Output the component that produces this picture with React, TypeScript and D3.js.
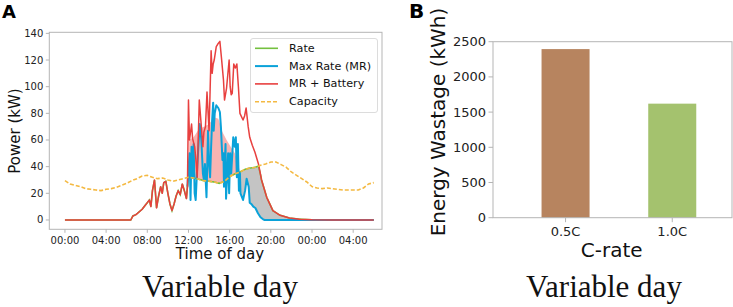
import React from "react";
import * as d3 from "d3";

type P = [number, number];

// ---------- Panel A data (hour of day, kW) ----------
const capacity: P[] = [
  [0, 29.5], [0.5, 27], [1, 26], [1.5, 25], [2, 23.5], [2.5, 23], [3, 22.5], [3.5, 22],
  [4, 23], [4.5, 23.5], [5, 24.5], [5.5, 26], [6, 27.5], [6.5, 29.5], [7, 31], [7.5, 33],
  [8, 33.5], [8.5, 32], [9, 31], [9.5, 31.5], [10, 30], [10.5, 29], [11, 30], [11.5, 31],
  [12, 32], [12.5, 31.5], [13, 30.5], [13.5, 29.5], [14, 29], [14.5, 28.5], [15, 27.5],
  [15.5, 29], [16, 32.5], [16.5, 34.5], [17, 36], [17.5, 38], [18, 39], [18.5, 39.5],
  [19, 41], [19.5, 42], [20, 43.5], [20.5, 43.5], [21, 41.5], [21.5, 39.5], [22, 36],
  [22.5, 33.5], [23, 31], [23.5, 28.5], [24, 25], [24.5, 24], [25, 23.5], [25.5, 24],
  [26, 23.5], [26.5, 23], [27, 22.5], [27.5, 22.5], [28, 22.5], [28.5, 22.5], [29, 24],
  [29.5, 27], [30, 28],
];

const maxRate: P[] = [
  [11.9, 25], [12.0, 37], [12.1, 50], [12.2, 15], [12.3, 55], [12.4, 32], [12.5, 57],
  [12.6, 20], [12.7, 15], [12.85, 40], [13.0, 60], [13.1, 72], [13.25, 60], [13.4, 35],
  [13.5, 30], [13.6, 42], [13.75, 17], [13.9, 67], [14.0, 42], [14.1, 32], [14.2, 55],
  [14.3, 75], [14.4, 88], [14.45, 67], [14.55, 80], [14.7, 86], [14.9, 84], [15.05, 81],
  [15.15, 70], [15.3, 45], [15.4, 50], [15.45, 25], [15.6, 57], [15.65, 16], [15.75, 32],
  [15.85, 50], [15.95, 20], [16.05, 50], [16.15, 35], [16.35, 62], [16.5, 55], [16.6, 62],
  [16.7, 32], [16.8, 57], [16.9, 22], [17.0, 35], [17.05, 20], [17.3, 15], [17.5, 22],
  [17.65, 31], [17.85, 25], [17.95, 13], [18.1, 12], [18.3, 10], [18.5, 9], [18.75, 5],
  [19.0, 2], [19.25, 0.5], [19.4, 0], [30, 0],
];

const mrBattery: P[] = [
  [0, 0], [6.4, 0], [6.6, 3], [6.9, 4], [7.2, 6], [7.5, 8], [7.8, 11], [8.0, 13],
  [8.2, 15], [8.35, 10], [8.5, 22], [8.7, 30], [8.9, 9], [9.1, 18], [9.3, 25], [9.45, 20],
  [9.6, 28], [9.8, 29], [10.0, 20], [10.2, 12], [10.4, 7], [10.6, 12], [10.8, 18],
  [11.0, 22], [11.2, 19], [11.4, 27], [11.6, 22], [11.8, 16], [11.9, 25],
  [12.0, 90], [12.1, 60], [12.2, 66], [12.3, 72], [12.4, 61], [12.6, 55], [12.7, 47],
  [12.85, 32], [13.05, 90], [13.2, 75], [13.4, 55], [13.5, 66], [13.65, 70], [13.8, 96],
  [14.0, 67], [14.2, 127], [14.3, 110], [14.4, 117], [14.5, 120], [14.7, 130], [14.85, 132],
  [15.05, 134], [15.2, 122], [15.4, 105], [15.5, 90], [15.7, 99], [15.95, 120], [16.05, 100],
  [16.15, 94], [16.25, 95], [16.4, 117], [16.55, 114], [16.7, 117], [16.85, 100], [17.0, 80],
  [17.3, 75], [17.45, 78], [17.6, 84], [17.8, 70], [17.95, 62], [18.2, 56], [18.45, 51],
  [18.8, 42], [19.1, 30], [19.6, 17], [20.2, 7], [20.9, 3.5], [21.8, 1.5], [22.8, 0.6],
  [24, 0.2], [26, 0], [30, 0],
];

// upper edge of the pink (battery charging) region
const chargeEnvelope: P[] = [
  [12.0, 31], [12.08, 60], [12.5, 62], [13.0, 68], [13.5, 70], [14.0, 72], [14.5, 77],
  [14.9, 76], [15.3, 66], [15.7, 60], [16.1, 55], [16.5, 50], [16.8, 43], [17.0, 36],
];

const legendLabels = ["Rate", "Max Rate (MR)", "MR + Battery", "Capacity"];
const xTicksA = [0, 4, 8, 12, 16, 20, 24, 28];
const xTickLabelsA = ["00:00", "04:00", "08:00", "12:00", "16:00", "20:00", "00:00", "04:00"];
const yTicksA = [0, 20, 40, 60, 80, 100, 120, 140];

// ---------- Panel B data ----------
const cRates = ["0.5C", "1.0C"];
const wastage = [2395, 1620];
const yTicksB = [0, 500, 1000, 1500, 2000, 2500];

const COLORS = {
  rate: "#74c03f",
  mr: "#0aa2d9",
  red: "#e8403f",
  cap: "#f4b942",
  pink: "#f7b4b2",
  gray: "#c4c4c4",
  spine: "#b5b5b5",
  bars: ["#b7845f", "#a4c26e"],
};

function valueAt(s: P[], t: number): number {
  if (t <= s[0][0]) return s[0][1];
  if (t >= s[s.length - 1][0]) return s[s.length - 1][1];
  const i = d3.bisector((d: P) => d[0]).right(s, t);
  const a = s[i - 1], b = s[i];
  const f = (t - a[0]) / (b[0] - a[0]);
  return a[1] + f * (b[1] - a[1]);
}

function timesIn(lo: number, hi: number, ...series: P[][]): number[] {
  const set = new Set<number>([lo, hi]);
  series.forEach((s) => s.forEach((d) => { if (d[0] >= lo && d[0] <= hi) set.add(d[0]); }));
  return Array.from(set).sort((a, b) => a - b);
}

const FONT = "DejaVu Sans, sans-serif";

function PanelA() {
  const x = d3.scaleLinear().domain([-1.52, 30.8]).range([49.3, 382]);
  const y = d3.scaleLinear().domain([-7, 140.8]).range([229.3, 32.3]);
  const line = d3.line<P>().x((d) => x(d[0])).y((d) => y(d[1]));

  const rateTimes = timesIn(0, 30, capacity, mrBattery);
  const rate: P[] = rateTimes.map((t) => [t, Math.min(valueAt(capacity, t), valueAt(mrBattery, t))]);

  const pinkT = timesIn(12.0, 17.0, capacity, chargeEnvelope);
  const pinkArea = d3.area<number>()
    .x((t) => x(t))
    .y0((t) => y(valueAt(capacity, t)))
    .y1((t) => y(Math.max(valueAt(chargeEnvelope, t), valueAt(capacity, t))));

  const grayT = timesIn(16.75, 24, capacity, mrBattery, maxRate);
  const rateAt = (t: number) => Math.min(valueAt(capacity, t), valueAt(mrBattery, t));
  const grayArea = d3.area<number>()
    .x((t) => x(t))
    .y0((t) => y(Math.min(valueAt(maxRate, t), rateAt(t))))
    .y1((t) => y(rateAt(t)));

  const legendColors = [COLORS.rate, COLORS.mr, COLORS.red, COLORS.cap];
  const [x0, x1] = x.range();
  const [yb, yt] = y.range();

  return (
    <g>
      <text x={2} y={18.3} fontFamily={FONT} fontWeight="bold" fontSize={18}>A</text>
      <path d={pinkArea(pinkT) || ""} fill={COLORS.pink} stroke="none" />
      <path d={grayArea(grayT) || ""} fill={COLORS.gray} stroke="none" />
      <path d={line(rate) || ""} fill="none" stroke={COLORS.rate} strokeWidth={1.6} />
      <path d={line(maxRate) || ""} fill="none" stroke={COLORS.mr} strokeWidth={2} strokeLinejoin="round" />
      <path d={line(mrBattery) || ""} fill="none" stroke={COLORS.red} strokeWidth={1.5} strokeLinejoin="round" />
      <path d={line(capacity) || ""} fill="none" stroke={COLORS.cap} strokeWidth={1.6} strokeDasharray="4 2" />
      <rect x={x0} y={yt} width={x1 - x0} height={yb - yt} fill="none" stroke={COLORS.spine} strokeWidth={1} />
      {yTicksA.map((v) => (
        <g key={"ya" + v}>
          <line x1={x0 - 3.5} x2={x0} y1={y(v)} y2={y(v)} stroke={COLORS.spine} />
          <text x={x0 - 6} y={y(v)} textAnchor="end" dominantBaseline="central" fontFamily={FONT} fontSize={10} fill="#222">{v}</text>
        </g>
      ))}
      {xTicksA.map((h, i) => (
        <g key={"xa" + i}>
          <line x1={x(h)} x2={x(h)} y1={yb} y2={yb + 3.5} stroke={COLORS.spine} />
          <text x={x(h)} y={243.5} textAnchor="middle" fontFamily={FONT} fontSize={10} fill="#222">{xTickLabelsA[i]}</text>
        </g>
      ))}
      <text x={220} y={258.5} textAnchor="middle" fontFamily={FONT} fontSize={15} fill="#111">Time of day</text>
      <text transform="translate(19.5,131) rotate(-90)" textAnchor="middle" fontFamily={FONT} fontSize={15} fill="#111">Power (kW)</text>
      <rect x={250.5} y={38.5} width={127} height={74} rx={2.5} fill="white" fillOpacity={0.85} stroke="#dcdcdc" />
      {legendLabels.map((lab, i) => {
        const cy = 48.3 + i * 17.8;
        return (
          <g key={lab}>
            <line x1={255} x2={278} y1={cy} y2={cy} stroke={legendColors[i]} strokeWidth={i === 1 ? 2 : 1.6}
              strokeDasharray={i === 3 ? "4 2" : undefined} />
            <text x={289} y={cy} dominantBaseline="central" fontFamily={FONT} fontSize={11.2} fill="#111">{lab}</text>
          </g>
        );
      })}
      <text x={220} y={297} textAnchor="middle" fontFamily="Liberation Serif, serif" fontSize={31} fill="#111">Variable day</text>
    </g>
  );
}

function PanelB() {
  const x = d3.scaleLinear().domain([-0.68, 1.56]).range([493, 732]);
  const y = d3.scaleLinear().domain([0, 2500]).range([217.7, 41.7]);
  const bw = 0.45;
  const [x0, x1] = x.range();
  return (
    <g>
      <text x={409} y={18.3} fontFamily={FONT} fontWeight="bold" fontSize={20}>B</text>
      {wastage.map((v, i) => (
        <rect key={cRates[i]} x={x(i - bw / 2)} y={y(v)} width={x(i + bw / 2) - x(i - bw / 2)} height={y(0) - y(v)} fill={COLORS.bars[i]} />
      ))}
      <rect x={x0} y={y(2500)} width={x1 - x0} height={y(0) - y(2500)} fill="none" stroke={COLORS.spine} />
      {yTicksB.map((v) => (
        <g key={"yb" + v}>
          <line x1={x0 - 4.5} x2={x0} y1={y(v)} y2={y(v)} stroke={COLORS.spine} />
          <text x={x0 - 7} y={y(v)} textAnchor="end" dominantBaseline="central" fontFamily={FONT} fontSize={13} fill="#222">{v}</text>
        </g>
      ))}
      {cRates.map((c, i) => (
        <g key={c}>
          <line x1={x(i)} x2={x(i)} y1={y(0)} y2={y(0) + 4.5} stroke={COLORS.spine} />
          <text x={x(i)} y={235.5} textAnchor="middle" fontFamily={FONT} fontSize={13} fill="#222">{c}</text>
        </g>
      ))}
      <text x={611.7} y={256.5} textAnchor="middle" fontFamily={FONT} fontSize={20} fill="#111">C-rate</text>
      <text transform="translate(445,122) rotate(-90)" textAnchor="middle" fontFamily={FONT} fontSize={20} fill="#111">Energy Wastage (kWh)</text>
      <text x={604} y={297} textAnchor="middle" fontFamily="Liberation Serif, serif" fontSize={31} fill="#111">Variable day</text>
    </g>
  );
}

export default function App() {
  return (
    <svg width={733} height={307} viewBox="0 0 733 307"
      style={{ position: "absolute", left: 0, top: 0, background: "white" }}>
      <rect x={0} y={0} width={733} height={307} fill="white" />
      <PanelA />
      <PanelB />
    </svg>
  );
}
